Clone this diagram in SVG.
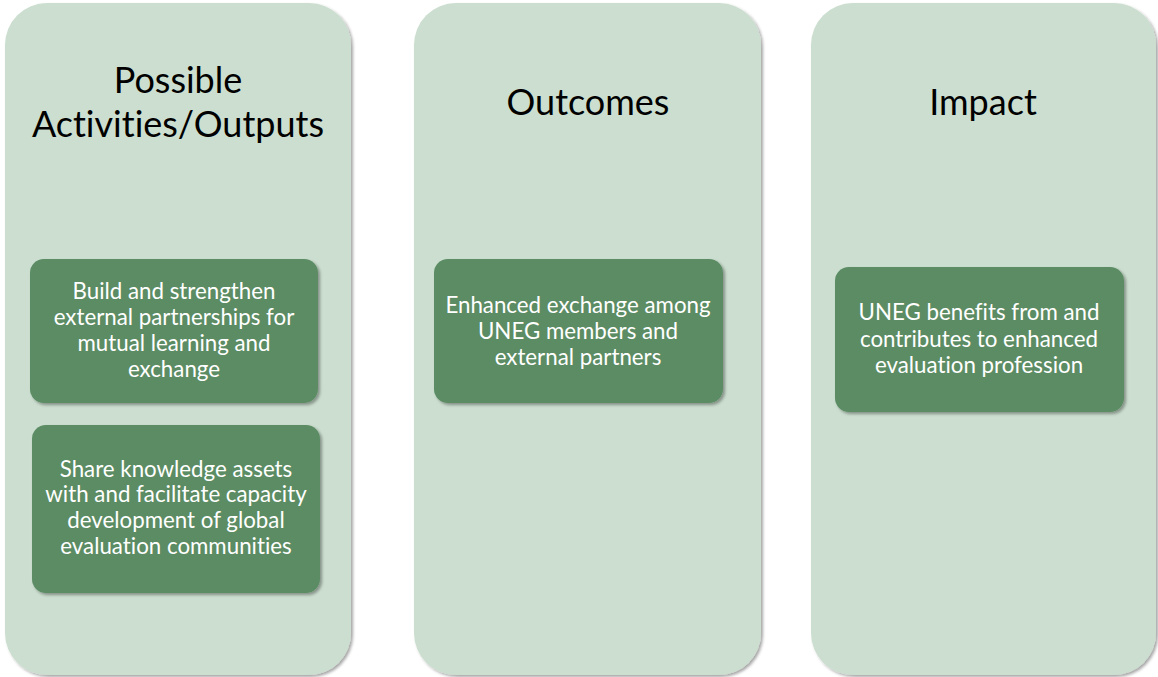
<svg xmlns="http://www.w3.org/2000/svg" width="1158" height="677" viewBox="0 0 1158 677">
  <defs>
    <filter id="shadow" x="-10%" y="-10%" width="120%" height="120%">
      <feDropShadow dx="2" dy="2" stdDeviation="1.8" flood-color="#000" flood-opacity="0.35"/>
    </filter>
  </defs>
  <style>
    .panel { fill: #CBDECF; filter: url(#shadow); }
    .card { fill: #5B8C64; filter: url(#shadow); }
    text { font-family: Lato, "Open Sans", sans-serif; text-anchor: middle; font-variant-ligatures: none; }
    .title { font-size: 36px; fill: #000; }
    .label { font-size: 22.3px; fill: #fff; }
  </style>
  <rect width="1158" height="677" fill="#fff"/>

  <!-- column: activities / outputs -->
  <g id="col-activities">
    <rect class="panel" x="5" y="3" width="346" height="672" rx="42"/>
    <text class="title" x="178" y="93">Possible</text>
    <text class="title" x="178" y="137">Activities/Outputs</text>
  </g>
  <g id="node-partnerships">
    <rect class="card" x="30" y="259" width="288" height="144" rx="14"/>
    <text class="label" x="174" y="299">Build and strengthen</text>
    <text class="label" x="174" y="325">external partnerships for</text>
    <text class="label" x="174" y="351">mutual learning and</text>
    <text class="label" x="174" y="377">exchange</text>
  </g>
  <g id="node-knowledge">
    <rect class="card" x="32" y="425" width="288" height="168" rx="14"/>
    <text class="label" x="176" y="477">Share knowledge assets</text>
    <text class="label" x="176" y="502">with and facilitate capacity</text>
    <text class="label" x="176" y="528">development of global</text>
    <text class="label" x="176" y="554">evaluation communities</text>
  </g>

  <!-- column: outcomes -->
  <g id="col-outcomes">
    <rect class="panel" x="414" y="3" width="347" height="672" rx="42"/>
    <text class="title" x="588" y="115">Outcomes</text>
  </g>
  <g id="node-exchange">
    <rect class="card" x="434" y="259" width="289" height="144" rx="14"/>
    <text class="label" x="578" y="313">Enhanced exchange among</text>
    <text class="label" x="578" y="339">UNEG members and</text>
    <text class="label" x="578" y="365">external partners</text>
  </g>

  <!-- column: impact -->
  <g id="col-impact">
    <rect class="panel" x="811" y="3" width="345" height="672" rx="42"/>
    <text class="title" x="983" y="115">Impact</text>
  </g>
  <g id="node-profession">
    <rect class="card" x="835" y="267" width="289" height="145" rx="14"/>
    <text class="label" x="979" y="320">UNEG benefits from and</text>
    <text class="label" x="979" y="347">contributes to enhanced</text>
    <text class="label" x="979" y="373">evaluation profession</text>
  </g>

  <!-- no connectors are drawn between the columns -->
  <g id="connectors"/>
</svg>
